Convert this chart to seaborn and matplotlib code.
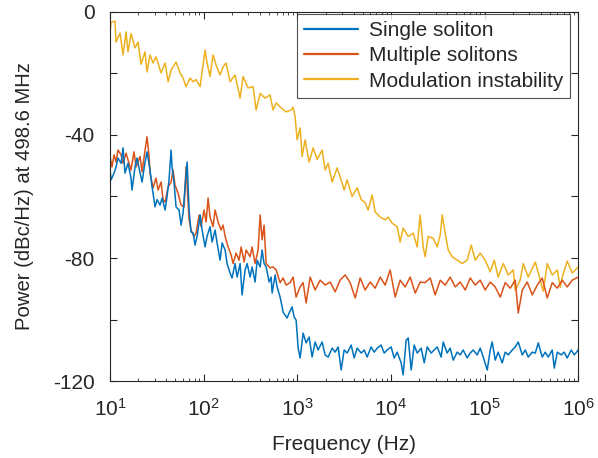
import numpy as np
import pandas as pd
import matplotlib
matplotlib.use("Agg")
import matplotlib.pyplot as plt
import seaborn as sns
from matplotlib.ticker import LogLocator, FixedLocator, NullFormatter

# --- data (log10 of frequency in Hz, power in dBc/Hz) ---
logf_single = [
    1.000, 1.011, 1.043, 1.064, 1.085, 1.118, 1.139, 1.160, 1.192, 1.224, 1.235, 1.267,
    1.288, 1.321, 1.342, 1.374, 1.395, 1.427, 1.449, 1.481, 1.502, 1.534, 1.556, 1.588,
    1.609, 1.630, 1.652, 1.662, 1.684, 1.705, 1.737, 1.759, 1.780, 1.801, 1.823, 1.844,
    1.865, 1.887, 1.908, 1.929, 1.962, 1.983, 2.015, 2.036, 2.068, 2.090, 2.122, 2.143,
    2.175, 2.197, 2.229, 2.250, 2.282, 2.303, 2.335, 2.357, 2.389, 2.410, 2.442, 2.464,
    2.496, 2.517, 2.549, 2.571, 2.603, 2.624, 2.645, 2.667, 2.699, 2.720, 2.731, 2.763,
    2.784, 2.816, 2.838, 2.848, 2.891, 2.912, 2.944, 2.966, 2.987, 3.009, 3.030, 3.062,
    3.094, 3.126, 3.158, 3.190, 3.222, 3.265, 3.297, 3.329, 3.372, 3.404, 3.436, 3.468,
    3.500, 3.532, 3.575, 3.607, 3.639, 3.682, 3.714, 3.746, 3.788, 3.821, 3.853, 3.895,
    3.927, 3.959, 4.002, 4.034, 4.066, 4.109, 4.130, 4.162, 4.184, 4.216, 4.248, 4.280,
    4.323, 4.355, 4.387, 4.429, 4.462, 4.494, 4.536, 4.558, 4.600, 4.632, 4.665, 4.707,
    4.739, 4.771, 4.814, 4.846, 4.878, 4.921, 4.953, 4.985, 5.028, 5.060, 5.081, 5.113,
    5.145, 5.188, 5.220, 5.252, 5.295, 5.327, 5.359, 5.402, 5.434, 5.466, 5.509, 5.541,
    5.573, 5.615, 5.647, 5.679, 5.722, 5.744, 5.776, 5.818, 5.850, 5.882, 5.925, 5.957,
    6.000,
]
db_single = [
    -51.4, -54.6, -52.4, -50.4, -47.5, -49.2, -44.2, -52.4, -49.2, -54.0, -57.9, -50.4,
    -47.5, -52.4, -55.3, -48.8, -45.5, -51.4, -56.9, -63.4, -61.0, -62.8, -60.5, -64.4,
    -60.0, -54.6, -44.9, -50.4, -55.6, -63.4, -64.4, -69.3, -65.4, -56.9, -48.8, -64.4,
    -71.5, -71.9, -75.8, -73.0, -66.0, -70.9, -76.4, -73.0, -69.8, -74.8, -70.9, -75.1,
    -80.7, -75.1, -77.4, -81.8, -84.9, -86.5, -81.8, -86.2, -81.8, -92.0, -83.9, -81.8,
    -86.2, -82.9, -87.8, -80.7, -82.9, -77.4, -81.8, -82.9, -87.8, -86.2, -91.4, -85.5,
    -89.4, -92.7, -95.9, -97.6, -99.5, -97.9, -95.9, -99.2, -100.2, -109.3, -112.5, -104.4,
    -107.6, -105.7, -112.2, -107.3, -109.9, -107.3, -111.5, -112.2, -109.3, -110.6, -108.9, -116.4,
    -109.9, -110.9, -108.3, -112.5, -109.3, -110.9, -109.9, -112.2, -108.9, -110.6, -109.3, -108.3,
    -110.9, -109.9, -108.9, -112.5, -110.6, -114.1, -118.0, -106.7, -106.0, -116.4, -108.3, -110.9,
    -109.3, -114.1, -108.9, -110.9, -109.9, -108.9, -112.2, -107.3, -110.9, -109.3, -113.2, -110.6,
    -111.5, -109.9, -112.5, -110.9, -109.9, -111.5, -109.3, -112.2, -116.4, -109.9, -107.3, -113.2,
    -110.6, -114.1, -110.6, -111.5, -109.9, -108.9, -107.3, -111.5, -109.9, -112.2, -110.6, -110.9,
    -107.6, -112.2, -110.6, -112.2, -109.9, -115.8, -110.6, -111.5, -110.6, -112.5, -109.9, -111.5,
    -109.9,
]

logf_multiple = [
    1.000, 1.021, 1.043, 1.064, 1.085, 1.118, 1.139, 1.171, 1.203, 1.224, 1.256, 1.278,
    1.321, 1.342, 1.374, 1.395, 1.417, 1.427, 1.459, 1.491, 1.513, 1.545, 1.566, 1.588,
    1.620, 1.652, 1.673, 1.694, 1.726, 1.759, 1.791, 1.812, 1.844, 1.865, 1.897, 1.919,
    1.951, 1.972, 2.004, 2.026, 2.047, 2.068, 2.100, 2.122, 2.154, 2.186, 2.207, 2.229,
    2.261, 2.293, 2.314, 2.346, 2.378, 2.400, 2.432, 2.453, 2.496, 2.517, 2.549, 2.581,
    2.603, 2.624, 2.645, 2.667, 2.709, 2.741, 2.774, 2.816, 2.848, 2.880, 2.923, 2.955,
    2.987, 3.030, 3.062, 3.094, 3.137, 3.190, 3.244, 3.297, 3.350, 3.404, 3.457, 3.511,
    3.564, 3.618, 3.671, 3.724, 3.778, 3.831, 3.885, 3.938, 3.991, 4.045, 4.098, 4.152,
    4.205, 4.259, 4.312, 4.365, 4.419, 4.472, 4.526, 4.579, 4.632, 4.686, 4.739, 4.793,
    4.846, 4.900, 4.953, 5.006, 5.060, 5.113, 5.167, 5.220, 5.274, 5.327, 5.359, 5.402,
    5.455, 5.509, 5.562, 5.615, 5.669, 5.722, 5.776, 5.829, 5.882, 5.936, 6.000,
]
db_multiple = [
    -47.0, -50.4, -46.5, -48.8, -44.9, -46.5, -49.2, -45.9, -49.2, -51.4, -45.5, -50.4,
    -47.0, -52.0, -44.9, -40.6, -47.0, -52.4, -57.2, -54.0, -57.9, -55.3, -61.0, -61.8,
    -56.9, -55.3, -51.4, -56.3, -58.9, -62.8, -63.4, -50.4, -67.6, -70.9, -73.0, -71.9,
    -66.0, -69.8, -64.4, -68.3, -60.5, -66.7, -69.8, -64.4, -68.3, -70.9, -69.3, -73.0,
    -76.4, -79.0, -81.8, -78.4, -80.7, -76.4, -81.3, -77.4, -79.6, -76.4, -81.8, -77.4,
    -66.0, -74.1, -69.3, -81.8, -83.2, -82.9, -83.9, -88.0, -86.5, -88.8, -88.0, -86.2,
    -92.7, -89.4, -88.0, -94.6, -86.2, -90.4, -87.2, -88.8, -87.8, -91.0, -87.2, -85.5,
    -88.0, -93.0, -86.5, -90.4, -87.8, -89.8, -86.2, -88.8, -83.9, -92.7, -87.2, -89.4,
    -86.2, -91.4, -87.8, -88.0, -86.5, -92.0, -87.2, -88.8, -86.2, -89.4, -87.8, -90.4,
    -86.5, -88.8, -87.2, -90.4, -87.8, -89.4, -92.7, -88.0, -89.8, -87.2, -97.9, -90.4,
    -87.8, -92.0, -88.8, -86.5, -93.0, -88.0, -89.8, -87.2, -89.4, -87.2, -86.2,
]

logf_mi = [
    1.000, 1.011, 1.053, 1.064, 1.107, 1.139, 1.171, 1.192, 1.224, 1.267, 1.299, 1.331,
    1.374, 1.395, 1.427, 1.459, 1.491, 1.545, 1.588, 1.620, 1.652, 1.705, 1.748, 1.780,
    1.812, 1.855, 1.887, 1.919, 1.962, 1.983, 2.015, 2.036, 2.068, 2.100, 2.132, 2.175,
    2.207, 2.239, 2.282, 2.335, 2.389, 2.421, 2.474, 2.528, 2.560, 2.603, 2.656, 2.709,
    2.741, 2.774, 2.827, 2.880, 2.934, 2.955, 2.976, 2.998, 3.030, 3.051, 3.083, 3.126,
    3.169, 3.212, 3.265, 3.297, 3.329, 3.372, 3.425, 3.457, 3.500, 3.532, 3.585, 3.639,
    3.682, 3.724, 3.756, 3.799, 3.831, 3.885, 3.938, 3.970, 4.013, 4.066, 4.098, 4.130,
    4.184, 4.237, 4.280, 4.312, 4.344, 4.365, 4.397, 4.451, 4.494, 4.526, 4.547, 4.579,
    4.611, 4.654, 4.707, 4.761, 4.814, 4.857, 4.900, 4.953, 5.006, 5.060, 5.103, 5.145,
    5.199, 5.252, 5.306, 5.327, 5.380, 5.412, 5.466, 5.541, 5.594, 5.626, 5.669, 5.722,
    5.776, 5.808, 5.829, 5.882, 5.936, 6.000,
]
db_mi = [
    -6.8, -3.4, -3.0, -9.8, -6.9, -14.0, -6.5, -13.0, -7.0, -11.7, -9.8, -17.0,
    -13.0, -19.5, -14.0, -16.6, -14.6, -19.8, -16.6, -22.7, -18.9, -16.3, -19.8, -21.5,
    -24.3, -21.5, -22.7, -22.0, -24.3, -19.5, -12.4, -16.6, -21.0, -14.0, -17.2, -20.5,
    -17.9, -16.6, -22.7, -20.5, -28.0, -21.0, -24.7, -24.3, -31.9, -26.5, -28.0, -27.0,
    -31.9, -29.6, -31.2, -32.5, -31.9, -31.0, -34.0, -41.6, -37.7, -47.0, -41.6, -48.8,
    -44.2, -48.0, -44.9, -51.4, -49.2, -55.3, -50.7, -53.6, -57.9, -54.6, -60.0, -57.2,
    -61.0, -62.0, -64.4, -59.5, -65.0, -66.7, -67.6, -66.7, -68.7, -69.8, -74.8, -70.3,
    -73.0, -71.9, -76.4, -66.0, -76.4, -79.6, -73.0, -73.6, -76.4, -72.5, -66.0, -71.9,
    -77.4, -79.6, -80.7, -81.8, -80.7, -75.8, -80.7, -78.4, -80.7, -84.5, -80.7, -86.2,
    -81.8, -85.5, -83.9, -90.5, -87.2, -81.8, -86.2, -81.3, -87.2, -90.8, -81.8, -85.5,
    -83.9, -89.5, -86.2, -81.0, -84.9, -82.9,
]

labels = ["Single soliton", "Multiple solitons", "Modulation instability"]
colors = ["#0072BD", "#D95319", "#EDB120"]

frames = []
for lab, lf, db in zip(labels, [logf_single, logf_multiple, logf_mi],
                       [db_single, db_multiple, db_mi]):
    frames.append(pd.DataFrame({"freq": 10 ** np.array(lf), "power": db, "state": lab}))
df = pd.concat(frames, ignore_index=True)

sns.set_theme(style="ticks")
plt.rcParams["font.family"] = ["Liberation Sans", "DejaVu Sans"]
plt.rcParams["mathtext.default"] = "regular"

fig = plt.figure(figsize=(5.98, 4.58), dpi=100)
ax = fig.add_axes([0.184, 0.168, 0.783, 0.806])

# draw in reverse so the blue trace ends up on top, like the original
for lab, col in reversed(list(zip(labels, colors))):
    sub = df[df["state"] == lab]
    sns.lineplot(data=sub, x="freq", y="power", color=col, linewidth=1.1,
                 estimator=None, sort=False, ax=ax, label=lab)

ax.set_xscale("log")
ax.set_xlim(10, 1e6)
ax.set_ylim(-120, 0)
ax.yaxis.set_major_locator(FixedLocator([-120, -100, -80, -60, -40, -20, 0]))
ax.set_yticklabels(["-120", "", "-80", "", "-40", "", "0"])
ax.xaxis.set_major_locator(LogLocator(base=10, numticks=10))
ax.xaxis.set_minor_locator(LogLocator(base=10, subs=np.arange(2, 10), numticks=20))
ax.xaxis.set_minor_formatter(NullFormatter())

ax.tick_params(which="both", direction="in", top=True, right=True, colors="#262626",
               labelcolor="#262626")
ax.tick_params(which="major", length=5, width=0.8, labelsize=15)
ax.tick_params(which="minor", length=2.5, width=0.6)
ax.tick_params(axis="x", pad=12)
ax.tick_params(axis="y", pad=11)
for sp in ax.spines.values():
    sp.set_visible(True)
    sp.set_color("#262626")
    sp.set_linewidth(0.8)

ax.set_xlabel("Frequency (Hz)", fontsize=15, color="#262626", labelpad=11)
ax.set_ylabel("Power (dBc/Hz) at 498.6 MHz", fontsize=14.6, color="#262626", labelpad=14)

handles, labs = ax.get_legend_handles_labels()
order = [labs.index(l) for l in labels]
leg = ax.legend([handles[i] for i in order], [labs[i] for i in order],
                loc="upper right", bbox_to_anchor=(0.983, 0.995), borderaxespad=0,
                fontsize=15, frameon=True, fancybox=False, edgecolor="#262626",
                handlelength=2.6, handletextpad=0.5, borderpad=0.35, labelspacing=0.3)
leg.get_frame().set_linewidth(0.8)
for line in leg.get_lines():
    line.set_linewidth(1.6)

fig.savefig("out.png", dpi=100)
